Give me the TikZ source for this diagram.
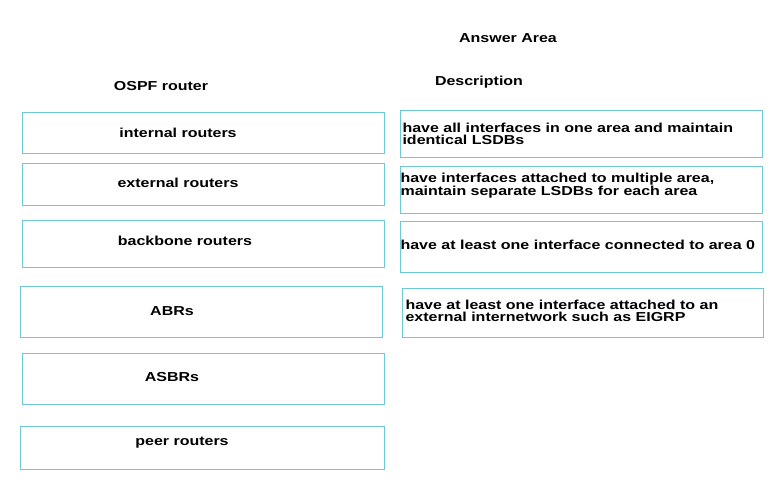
\documentclass[tikz,border=0pt]{standalone}
\usepackage{fontspec}
\setmainfont{Liberation Sans}[FakeStretch=1.23]
\definecolor{boxcyan}{RGB}{110,200,215}
\tikzset{
  routerbox/.style={draw=boxcyan, line width=0.8pt},
  label/.style={font=\bfseries\fontsize{13}{13}\selectfont},
  desc/.style={anchor=west, align=left, font=\bfseries\fontsize{13}{11.5}\selectfont}
}
\begin{document}
\begin{tikzpicture}[x=1pt, y=-1pt]
  \useasboundingbox (0,0) rectangle (784,484);

  \node[label] (answer) at (508,38) {Answer Area};
  \node[label] (ospf) at (161,86) {OSPF router};
  \node[label] (descr) at (479,82) {Description};

  % left column
  \draw[routerbox] (22,112) rectangle (384,153);
  \draw[routerbox] (22,163) rectangle (384,205);
  \draw[routerbox] (22,220) rectangle (384,267);
  \draw[routerbox] (20,286) rectangle (382,337);
  \draw[routerbox] (22,353) rectangle (384,404);
  \draw[routerbox] (20,426) rectangle (384,469);
  \node[label] (internal) at (178,133) {internal routers};
  \node[label] (external) at (178,183) {external routers};
  \node[label] (backbone) at (185,241) {backbone routers};
  \node[label] (abr) at (172,311) {ABRs};
  \node[label] (asbr) at (172,377) {ASBRs};
  \node[label] (peer) at (182,443) {peer routers};

  % right column
  \draw[routerbox] (400,110) rectangle (762,157);
  \draw[routerbox] (400,166) rectangle (762,213);
  \draw[routerbox] (400,221) rectangle (762,272);
  \draw[routerbox] (402,288) rectangle (763,337);
  \node[desc] (d1) at (399,134) {have all interfaces in one area and maintain\\identical LSDBs};
  \node[desc] (d2) at (397,186) {have interfaces attached to multiple area,\\maintain separate LSDBs for each area};
  \node[desc] (d3) at (397,245) {have at least one interface connected to area 0};
  \node[desc] (d4) at (402,311) {have at least one interface attached to an\\external internetwork such as EIGRP};
\end{tikzpicture}
\end{document}
